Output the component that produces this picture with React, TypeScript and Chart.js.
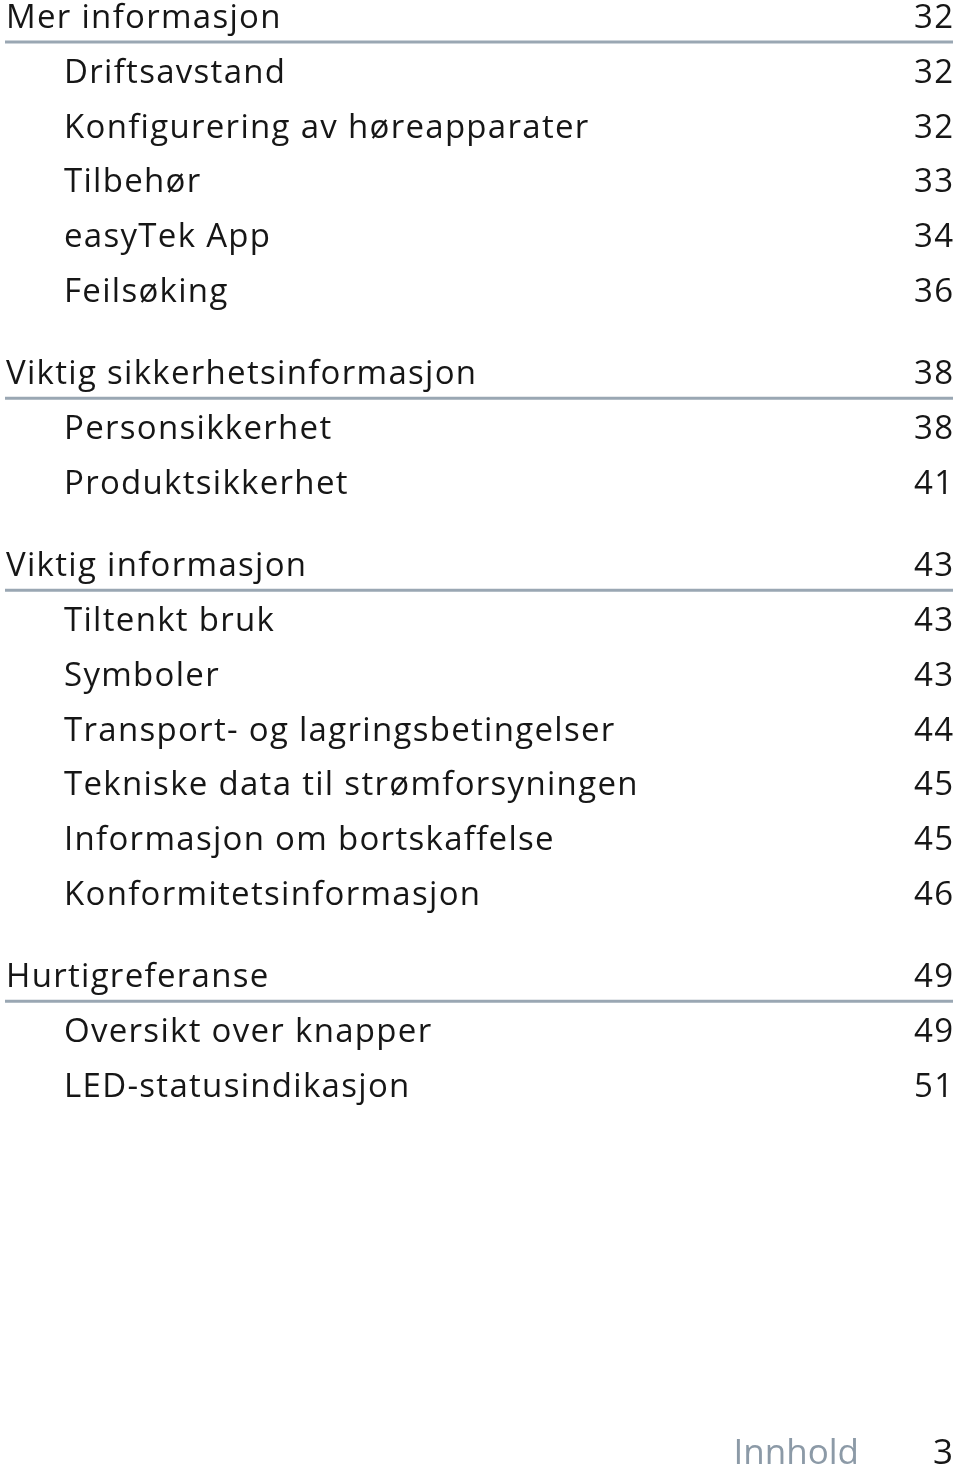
import React, { useEffect, useRef } from "react";
import { Chart, registerables } from "chart.js";

Chart.register(...registerables);

// ---- Data ----
const sectionTitles = [
  "Mer informasjon",
  "Viktig sikkerhetsinformasjon",
  "Viktig informasjon",
  "Hurtigreferanse",
];
const sectionPages = [32, 38, 43, 49];

const sub0Titles = ["Driftsavstand", "Konfigurering av høreapparater", "Tilbehør", "easyTek App", "Feilsøking"];
const sub0Pages = [32, 32, 33, 34, 36];
const sub1Titles = ["Personsikkerhet", "Produktsikkerhet"];
const sub1Pages = [38, 41];
const sub2Titles = [
  "Tiltenkt bruk",
  "Symboler",
  "Transport- og lagringsbetingelser",
  "Tekniske data til strømforsyningen",
  "Informasjon om bortskaffelse",
  "Konformitetsinformasjon",
];
const sub2Pages = [43, 43, 44, 45, 45, 46];
const sub3Titles = ["Oversikt over knapper", "LED-statusindikasjon"];
const sub3Pages = [49, 51];

const footerLabel = "Innhold";
const footerPage = "3";

const subTitles = [sub0Titles, sub1Titles, sub2Titles, sub3Titles];
const subPages = [sub0Pages, sub1Pages, sub2Pages, sub3Pages];

// ---- Build rows (row index; half-row gap before each new section) ----
type Entry = { x: number; y: number; title: string; page: number; level: number };
function buildEntries(): Entry[] {
  const out: Entry[] = [];
  let row = 0;
  sectionTitles.forEach((t, i) => {
    if (i > 0) row += 0.5;
    out.push({ x: 0, y: row, title: t, page: sectionPages[i], level: 0 });
    row += 1;
    subTitles[i].forEach((st, j) => {
      out.push({ x: 0, y: row, title: st, page: subPages[i][j], level: 1 });
      row += 1;
    });
  });
  return out;
}

const FONT = "'Open Sans', 'Noto Sans', sans-serif";
const TEXT_COLOR = "#161616";
const RULE_COLOR = "#9aa7b3";
const FOOTER_COLOR = "#8c9aa7";
const SPACING = 1.3;

const tocPlugin = {
  id: "tocText",
  afterDatasetsDraw(chart: any) {
    const ctx = chart.ctx;
    const area = chart.chartArea;
    const meta = chart.getDatasetMeta(0);
    const entries: Entry[] = chart.data.datasets[0].data;
    ctx.save();
    ctx.textBaseline = "alphabetic";
    ctx.fillStyle = TEXT_COLOR;
    ctx.font = `33px ${FONT}`;
    (ctx as any).letterSpacing = `${SPACING}px`;
    meta.data.forEach((el: any, i: number) => {
      const e = entries[i];
      const y = el.y;
      ctx.textAlign = "left";
      ctx.fillText(e.title, area.left + (e.level === 0 ? 1 : 59), y);
      ctx.textAlign = "right";
      ctx.fillText(String(e.page), area.right + SPACING, y);
    });
    // footer
    (ctx as any).letterSpacing = "0px";
    ctx.font = `35px ${FONT}`;
    ctx.textAlign = "right";
    ctx.fillStyle = FOOTER_COLOR;
    ctx.fillText(footerLabel, area.right - 94, area.bottom - 11);
    ctx.fillStyle = TEXT_COLOR;
    ctx.fillText(footerPage, area.right, area.bottom - 11);
    ctx.restore();
  },
};

export default function App() {
  const ref = useRef<HTMLCanvasElement | null>(null);
  useEffect(() => {
    document.body.style.margin = "0";
    const entries = buildEntries();
    const rowPx = 54.82;
    const firstBaseline = 28;
    const yMin = -firstBaseline / rowPx;
    const yMax = yMin + 1475 / rowPx;
    const ruleOffset = 0.255;
    const ruleSets = entries
      .filter((e) => e.level === 0)
      .map((e) => ({
        type: "line" as const,
        data: [
          { x: 0, y: e.y + ruleOffset },
          { x: 1, y: e.y + ruleOffset },
        ],
        borderColor: RULE_COLOR,
        borderWidth: 3,
        pointRadius: 0,
        showLine: true,
      }));
    const chart = new Chart(ref.current!, {
      type: "scatter",
      data: {
        datasets: [
          {
            data: entries as any,
            pointRadius: 0,
            pointHoverRadius: 0,
          },
          ...(ruleSets as any),
        ],
      },
      options: {
        animation: false,
        responsive: false,
        maintainAspectRatio: false,
        events: [],
        layout: { padding: { left: 5, right: 7, top: 0, bottom: 0 } },
        plugins: { legend: { display: false }, tooltip: { enabled: false } },
        scales: {
          x: { type: "linear", min: 0, max: 1, display: false },
          y: { type: "linear", min: yMin, max: yMax, reverse: true, display: false },
        },
      },
      plugins: [tocPlugin],
    });
    return () => chart.destroy();
  }, []);
  return (
    <div style={{ width: 960, height: 1475, background: "#fff" }}>
      <canvas ref={ref} width={960} height={1475} style={{ display: "block" }} />
    </div>
  );
}
